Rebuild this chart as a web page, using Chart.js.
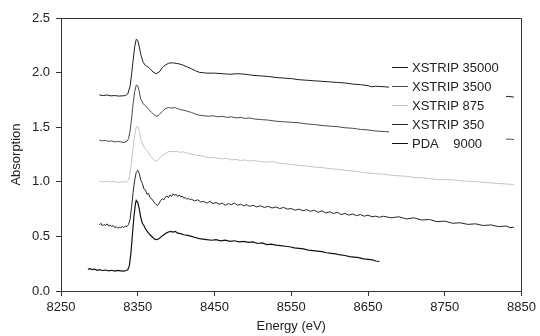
<!DOCTYPE html>
<html>
<head>
<meta charset="utf-8">
<script src="https://cdn.jsdelivr.net/npm/chart.js@4.4.0/dist/chart.umd.min.js"></script>
<style>
  body { margin: 0; background: #fff; }
  #wrap { width: 540px; height: 336px; }
</style>
</head>
<body>
<div id="wrap"><canvas id="xas"></canvas></div>
<script>
// Spectra, each sample shifted upward on the absorption axis
var seriesNames = ["XSTRIP 35000", "XSTRIP 3500", "XSTRIP 875", "XSTRIP 350", "PDA    9000"];

var energy35000 = [8300, 8305, 8310, 8315, 8320, 8325, 8330, 8334, 8337, 8340, 8342, 8344, 8346, 8348, 8350, 8352, 8354, 8357,
    8360, 8363, 8366, 8370, 8374, 8378, 8382, 8386, 8390, 8395, 8400, 8405, 8410, 8415, 8420, 8425, 8430,
    8440, 8450, 8460, 8470, 8480, 8490, 8500, 8510, 8520, 8530, 8540, 8550, 8560, 8570, 8580, 8590, 8600,
    8610, 8620, 8630, 8640, 8650, 8655, 8660, 8672, 8700, 8750, 8800, 8827, 8833, 8840];
var abs35000 = [1.795, 1.79, 1.795, 1.787, 1.79, 1.785, 1.787, 1.79, 1.805, 1.875, 1.985, 2.115, 2.235, 2.305, 2.295, 2.235, 2.165, 2.095,
    2.065, 2.055, 2.035, 2.005, 1.99, 2.005, 2.045, 2.07, 2.085, 2.09, 2.085, 2.078, 2.066, 2.05, 2.034, 2.018, 2.003,
    1.995, 1.995, 1.99, 1.985, 1.99, 1.985, 1.975, 1.97, 1.965, 1.955, 1.95, 1.945, 1.935, 1.93, 1.925, 1.92, 1.915,
    1.91, 1.905, 1.895, 1.89, 1.88, 1.87, 1.875, 1.87, 1.85, 1.82, 1.795, 1.78, 1.782, 1.776];

var energy3500 = [8300, 8304, 8308, 8312, 8316, 8320, 8324, 8328, 8332, 8336,
    8338, 8340, 8342, 8344, 8346, 8348, 8350, 8352, 8354, 8357,
    8360, 8364, 8368, 8372, 8375, 8378, 8382, 8386, 8390, 8394,
    8398, 8402, 8406, 8410, 8415, 8420, 8425, 8430, 8436, 8442,
    8448, 8454, 8460, 8466, 8472, 8478, 8484, 8490, 8496, 8502,
    8510, 8520, 8530, 8540, 8550, 8560, 8570, 8580, 8590, 8600,
    8610, 8620, 8630, 8640, 8650, 8660, 8672, 8720, 8780, 8827, 8835, 8840];
var abs3500 = [1.38, 1.375, 1.38, 1.37, 1.375, 1.365, 1.37, 1.365, 1.36, 1.37,
    1.395, 1.465, 1.585, 1.715, 1.825, 1.885, 1.88, 1.825, 1.755, 1.715,
    1.695, 1.665, 1.635, 1.61, 1.60, 1.615, 1.645, 1.67, 1.68, 1.675,
    1.68, 1.67, 1.66, 1.655, 1.645, 1.635, 1.62, 1.61, 1.605, 1.60,
    1.605, 1.595, 1.60, 1.59, 1.595, 1.585, 1.59, 1.58, 1.585, 1.575,
    1.57, 1.565, 1.555, 1.55, 1.545, 1.54, 1.53, 1.525, 1.515, 1.51,
    1.505, 1.495, 1.49, 1.48, 1.475, 1.465, 1.46, 1.435, 1.41, 1.39, 1.391, 1.387];

var energy875 = [8300, 8305, 8310, 8315, 8320, 8325, 8330, 8335, 8338, 8340,
    8342, 8344, 8346, 8348, 8350, 8352, 8354, 8357, 8360, 8363,
    8366, 8370, 8373, 8376, 8380, 8384, 8388, 8392, 8396, 8400,
    8405, 8410, 8415, 8420, 8425, 8430, 8436, 8442, 8448, 8454,
    8460, 8466, 8472, 8478, 8484, 8490, 8496, 8502, 8510, 8518,
    8526, 8534, 8542, 8550, 8560, 8570, 8580, 8590, 8600, 8610,
    8620, 8630, 8640, 8650, 8660, 8670, 8680, 8690, 8700, 8710,
    8720, 8730, 8740, 8750, 8760, 8770, 8780, 8790, 8800, 8810,
    8820, 8830, 8840];
var abs875 = [1.005, 1.0, 1.005, 0.998, 1.002, 0.995, 1.0, 0.998, 1.015, 1.08,
    1.19, 1.32, 1.43, 1.50, 1.51, 1.46, 1.39, 1.33, 1.30, 1.28,
    1.24, 1.21, 1.19, 1.195, 1.23, 1.25, 1.27, 1.28, 1.275, 1.28,
    1.27, 1.275, 1.26, 1.255, 1.245, 1.24, 1.235, 1.22, 1.225, 1.215,
    1.21, 1.215, 1.20, 1.205, 1.195, 1.20, 1.19, 1.195, 1.185, 1.18,
    1.185, 1.17, 1.165, 1.16, 1.15, 1.145, 1.135, 1.13, 1.12, 1.115,
    1.105, 1.10, 1.09, 1.08, 1.075, 1.07, 1.06, 1.055, 1.05, 1.04,
    1.038, 1.03, 1.02, 1.02, 1.018, 1.01, 1.005, 1.002, 0.995, 0.99,
    0.985, 0.98, 0.975];

var energy350 = [8300, 8302, 8304, 8306, 8308, 8310, 8312, 8314, 8316, 8318,
    8320, 8322, 8324, 8326, 8328, 8330, 8332, 8334, 8336, 8338,
    8340, 8342, 8344, 8346, 8348, 8350, 8352, 8354, 8356, 8358,
    8360, 8362, 8364, 8366, 8368, 8370, 8372, 8374, 8376, 8378,
    8380, 8382, 8384, 8386, 8388, 8390, 8392, 8394, 8396, 8398,
    8400, 8402, 8404, 8406, 8408, 8410, 8412, 8414, 8416, 8418,
    8420, 8424, 8428, 8432, 8436, 8440, 8444, 8448, 8452, 8456,
    8460, 8464, 8468, 8472, 8476, 8480, 8484, 8488, 8492, 8496,
    8500, 8505, 8510, 8515, 8520, 8525, 8530, 8535, 8540, 8545,
    8550, 8555, 8560, 8565, 8570, 8575, 8580, 8585, 8590, 8595,
    8600, 8605, 8610, 8615, 8620, 8625, 8630, 8635, 8640, 8645,
    8650, 8655, 8660, 8665, 8670, 8680, 8690, 8700, 8710, 8720,
    8730, 8740, 8750, 8760, 8770, 8780, 8790, 8800, 8810, 8820,
    8830, 8835, 8840];
var abs350 = [0.605, 0.62, 0.595, 0.61, 0.60, 0.615, 0.595, 0.605, 0.59, 0.60,
    0.58, 0.59, 0.575, 0.585, 0.58, 0.59, 0.58, 0.595, 0.59, 0.61,
    0.655, 0.775, 0.905, 1.015, 1.085, 1.105, 1.075, 1.015, 0.985, 0.935,
    0.925, 0.885, 0.895, 0.855, 0.845, 0.825, 0.805, 0.79, 0.785, 0.805,
    0.83, 0.845, 0.835, 0.86, 0.87, 0.855, 0.88, 0.865, 0.89, 0.875,
    0.885, 0.865, 0.88, 0.86, 0.87, 0.85, 0.855, 0.84, 0.85, 0.835,
    0.84, 0.825, 0.835, 0.815, 0.82, 0.805, 0.82, 0.80, 0.81, 0.795,
    0.805, 0.785, 0.80, 0.79, 0.805, 0.785, 0.795, 0.78, 0.79, 0.775,
    0.785, 0.77, 0.78, 0.765, 0.775, 0.76, 0.77, 0.755, 0.765, 0.75,
    0.755, 0.74, 0.75, 0.735, 0.745, 0.73, 0.74, 0.72, 0.735, 0.715,
    0.725, 0.71, 0.72, 0.70, 0.71, 0.695, 0.705, 0.69, 0.70, 0.685,
    0.695, 0.68, 0.685, 0.675, 0.685, 0.67, 0.68, 0.66, 0.67, 0.65,
    0.655, 0.635, 0.64, 0.62, 0.625, 0.61, 0.615, 0.60, 0.605, 0.59,
    0.595, 0.58, 0.585];

var energyPDA = [8285, 8288, 8291, 8294, 8297, 8300, 8304, 8308, 8312, 8316,
    8320, 8324, 8328, 8332, 8335, 8337, 8339, 8341, 8343, 8345,
    8347, 8348, 8350, 8352, 8354, 8356, 8358, 8360, 8363, 8366,
    8369, 8372, 8375, 8378, 8381, 8384, 8387, 8390, 8393, 8396,
    8399, 8402, 8406, 8410, 8415, 8420, 8425, 8430, 8435, 8440,
    8446, 8452, 8458, 8464, 8470, 8476, 8482, 8488, 8494, 8500,
    8506, 8512, 8518, 8524, 8530, 8536, 8542, 8548, 8554, 8560,
    8566, 8572, 8578, 8584, 8590, 8596, 8602, 8608, 8614, 8620,
    8626, 8632, 8638, 8644, 8650, 8656, 8660, 8665];
var absPDA = [0.2, 0.205, 0.195, 0.2, 0.19, 0.195, 0.188, 0.192, 0.185, 0.19,
    0.182, 0.188, 0.185, 0.182, 0.188, 0.195, 0.23, 0.34, 0.51, 0.68,
    0.80, 0.83, 0.81, 0.75, 0.67, 0.62, 0.60, 0.57, 0.54, 0.515,
    0.495, 0.475, 0.47, 0.48, 0.50, 0.515, 0.53, 0.54, 0.545, 0.54,
    0.545, 0.53, 0.525, 0.515, 0.51, 0.50, 0.49, 0.48, 0.475, 0.47,
    0.465, 0.47, 0.46, 0.465, 0.455, 0.46, 0.45, 0.455, 0.445, 0.45,
    0.435, 0.44, 0.425, 0.43, 0.42, 0.415, 0.41, 0.405, 0.395, 0.39,
    0.385, 0.375, 0.37, 0.365, 0.36, 0.35, 0.345, 0.34, 0.33, 0.325,
    0.315, 0.31, 0.305, 0.295, 0.29, 0.285, 0.275, 0.27];

var xTicks = [8250, 8350, 8450, 8550, 8650, 8750, 8850];
var yTicks = [0.0, 0.5, 1.0, 1.5, 2.0, 2.5];

var FONT = 'Arial, "Liberation Sans", sans-serif';
var INK = '#222';

function pts(e, a) {
    return e.map(function (x, i) { return { x: x, y: a[i] }; });
}

function line(label, e, a, color, w) {
    return {
        label: label,
        data: pts(e, a),
        borderColor: color,
        borderWidth: w,
        pointRadius: 0,
        tension: 0,
        fill: false
    };
}

var datasets = [
    line(seriesNames[0], energy35000, abs35000, '#1e1e1e', 1),
    line(seriesNames[1], energy3500, abs3500, '#4a4a4a', 1),
    line(seriesNames[2], energy875, abs875, '#c4c4c4', 1),
    line(seriesNames[3], energy350, abs350, '#262626', 1),
    line(seriesNames[4], energyPDA, absPDA, '#111111', 1.2)
];

function align(v) { return Math.round(v - 0.5) + 0.5; }

// top and right edges of the box
var frame = {
    id: 'frame',
    beforeDatasetsDraw: function (chart) {
        var a = chart.chartArea, ctx = chart.ctx;
        ctx.save();
        ctx.strokeStyle = '#333';
        ctx.lineWidth = 1;
        ctx.beginPath();
        ctx.moveTo(align(a.left), align(a.top));
        ctx.lineTo(align(a.right), align(a.top));
        ctx.lineTo(align(a.right), align(a.bottom));
        ctx.stroke();
        ctx.restore();
    }
};

// legend sits inside the plot on a white patch
var legendBox = {
    id: 'legendBox',
    afterDatasetsDraw: function (chart) {
        var ctx = chart.ctx;
        var sets = chart.data.datasets;
        var x0 = 389, y0 = 66.5, step = 19.2;
        ctx.save();
        ctx.fillStyle = '#fff';
        ctx.fillRect(x0, y0 - 10, 117, step * sets.length + 2);
        ctx.font = '13px ' + FONT;
        ctx.textBaseline = 'middle';
        sets.forEach(function (ds, i) {
            var y = Math.round(y0 + i * step) + 0.5;
            ctx.strokeStyle = ds.borderColor;
            ctx.lineWidth = 1;
            ctx.beginPath();
            ctx.moveTo(x0 + 3, y);
            ctx.lineTo(x0 + 19, y);
            ctx.stroke();
            ctx.fillStyle = INK;
            ctx.fillText(ds.label, x0 + 23, y + 0.5);
        });
        ctx.restore();
    }
};

var ctxXas = document.getElementById('xas').getContext('2d');
new Chart(ctxXas, {
    type: 'line',
    data: { datasets: datasets },
    options: {
        responsive: true,
        maintainAspectRatio: false,
        animation: false,
        layout: { padding: { left: 0, top: 18, right: 16, bottom: 0 } },
        plugins: { legend: { display: false }, tooltip: { enabled: false } },
        scales: {
            x: {
                type: 'linear',
                min: 8250,
                max: 8850,
                afterBuildTicks: function (s) { s.ticks = xTicks.map(function (v) { return { value: v }; }); },
                afterFit: function (s) { s.height = 45; },
                grid: { display: true, drawOnChartArea: false, drawTicks: true, tickLength: 5, color: '#333' },
                border: { display: true, color: '#333', width: 1 },
                ticks: {
                    autoSkip: false, maxRotation: 0, padding: 4,
                    color: INK, font: { family: FONT, size: 13 },
                    callback: function (v) { return String(v); }
                },
                title: { display: true, text: 'Energy (eV)', color: INK, font: { family: FONT, size: 13 }, padding: { top: 0, bottom: 2 } }
            },
            y: {
                type: 'linear',
                min: 0,
                max: 2.5,
                afterBuildTicks: function (s) { s.ticks = yTicks.map(function (v) { return { value: v }; }); },
                afterFit: function (s) { s.width = 61; },
                grid: { display: true, drawOnChartArea: false, drawTicks: true, tickLength: 5, color: '#333' },
                border: { display: true, color: '#333', width: 1 },
                ticks: {
                    padding: 6,
                    color: INK, font: { family: FONT, size: 13 },
                    callback: function (v) { return Number(v).toFixed(1); }
                },
                title: { display: true, text: 'Absorption', color: INK, font: { family: FONT, size: 13 }, padding: { top: 9, bottom: 0 } }
            }
        }
    },
    plugins: [frame, legendBox]
});
</script>
</body>
</html>
